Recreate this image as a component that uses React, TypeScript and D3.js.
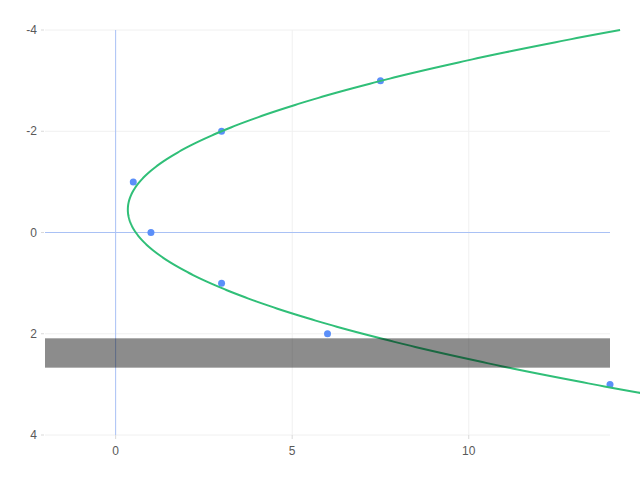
import React from "react";
import * as d3 from "d3";

// data points
const xs = [0.5, 1, 3, 3, 6, 7.5, 14];
const ys = [-1, 0, -2, 1, 2, -3, 3];

const xTicks = [0, 5, 10];
const yTicks = [-4, -2, 0, 2, 4];

// shaded region in y
const bandY = [2.09, 2.67];

// least squares: x = a*y^2 + b*y + c
function fitQuad(px: number[], py: number[]) {
  let s = [0, 0, 0, 0, 0];
  let t = [0, 0, 0];
  for (let i = 0; i < px.length; i++) {
    let p = 1;
    for (let k = 0; k < 5; k++) {
      s[k] += p;
      if (k < 3) t[k] += px[i] * p;
      p *= py[i];
    }
  }
  // matrix rows for [c, b, a]
  let m = [
    [s[0], s[1], s[2], t[0]],
    [s[1], s[2], s[3], t[1]],
    [s[2], s[3], s[4], t[2]],
  ];
  for (let i = 0; i < 3; i++) {
    let piv = m[i][i];
    for (let j = i; j < 4; j++) m[i][j] /= piv;
    for (let r = 0; r < 3; r++) {
      if (r === i) continue;
      let f = m[r][i];
      for (let j = i; j < 4; j++) m[r][j] -= f * m[i][j];
    }
  }
  return { c: m[0][3], b: m[1][3], a: m[2][3] };
}

export default function App() {
  const width = 640;
  const height = 480;
  const left = 45, right = 610, top = 30, bottom = 435;

  const x = d3.scaleLinear().domain([-2, 14]).range([left, right]);
  const y = d3.scaleLinear().domain([-4, 4]).range([top, bottom]);

  const { a, b, c } = fitQuad(xs, ys);
  const curveYs = d3.range(-4, 4.001, 0.02);
  const line = d3
    .line<number>()
    .x((v) => x(a * v * v + b * v + c))
    .y((v) => y(v));

  const font = "Helvetica, Arial, 'Liberation Sans', sans-serif";

  return (
    <svg
      width={width}
      height={height}
      style={{ position: "absolute", left: 0, top: 0 }}
      fontFamily={font}
    >
      <rect width={width} height={height} fill="#fff" />
      {yTicks.filter((t) => t !== 0).map((t) => (
        <line key={"gy" + t} x1={left} x2={right} y1={y(t)} y2={y(t)} stroke="#f0f0f0" />
      ))}
      {xTicks.filter((t) => t !== 0).map((t) => (
        <line key={"gx" + t} x1={x(t)} x2={x(t)} y1={top} y2={bottom} stroke="#f0f0f0" />
      ))}
      {yTicks.map((t) => (
        <g key={"ty" + t}>
          <line x1={left - 4} x2={left - 1} y1={y(t)} y2={y(t)} stroke="#d9d9d9" />
          <text x={left - 8} y={y(t)} dy="0.35em" textAnchor="end" fontSize={12} fill="#595959">
            {t}
          </text>
        </g>
      ))}
      {xTicks.map((t) => (
        <g key={"tx" + t}>
          <line x1={x(t)} x2={x(t)} y1={bottom} y2={bottom + 4} stroke="#d9d9d9" />
          <text x={x(t)} y={bottom + 16} dy="0.35em" textAnchor="middle" fontSize={12} fill="#595959">
            {t}
          </text>
        </g>
      ))}
      <line x1={x(0)} x2={x(0)} y1={top} y2={bottom} stroke="#a9c1f5" />
      <line x1={left} x2={right} y1={y(0)} y2={y(0)} stroke="#a9c1f5" />
      {xs.map((v, i) => (
        <circle key={i} cx={x(v)} cy={y(ys[i])} r={3.5} fill="#5b8ff9" />
      ))}
      <path d={line(curveYs) || ""} fill="none" stroke="#30bf78" strokeWidth={2} />
      <rect
        x={x(-2)}
        y={y(bandY[0])}
        width={x(14) - x(-2)}
        height={y(bandY[1]) - y(bandY[0])}
        fill="#000"
        fillOpacity={0.45}
      />
    </svg>
  );
}
